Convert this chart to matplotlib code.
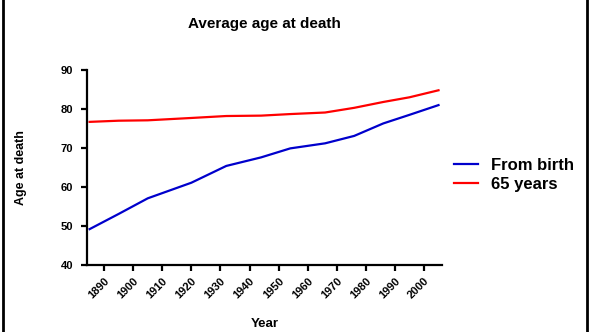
import matplotlib
matplotlib.use("Agg")
import matplotlib.pyplot as plt
from matplotlib.lines import Line2D

years = [1885, 1895, 1905, 1920, 1932, 1944, 1954, 1966, 1976, 1986, 1995, 2005]
from_birth = [49.2, 53.1, 57.1, 61.1, 65.4, 67.6, 69.9, 71.2, 73.1, 76.3, 78.5, 81.0]
age_65 = [76.7, 77.0, 77.1, 77.7, 78.2, 78.3, 78.7, 79.1, 80.3, 81.8, 83.0, 84.8]
xticks = list(range(1890, 2001, 10))
yticks = [40, 50, 60, 70, 80, 90]

plt.rcParams['font.family'] = ['Liberation Sans', 'DejaVu Sans']
plt.rcParams['font.weight'] = 'bold'

fig = plt.figure(figsize=(5.94, 3.32), dpi=100)
ax = fig.add_axes([87/594, 1-265/332, (442-87)/594, (265-70)/332])

ax.plot(years, from_birth, color='#0000CC', lw=1.6, label='From birth')
ax.plot(years, age_65, color='#FF0000', lw=1.6, label='65 years')

ax.set_xlim(1884.1, 2006.2)
ax.set_ylim(40, 90)
ax.set_xticks(xticks)
ax.set_yticks(yticks)
ax.spines['top'].set_visible(False)
ax.spines['right'].set_visible(False)
for s in ('left', 'bottom'):
    ax.spines[s].set_linewidth(1.6)
ax.tick_params(axis='both', direction='out', length=4, width=1.6, labelsize=8, pad=4)
ax.tick_params(axis='y', pad=6)
for lab in ax.get_xticklabels():
    lab.set_rotation(45)
    lab.set_ha('right')
    lab.set_va('top')
    lab.set_rotation_mode('anchor')
    lab.set_fontweight('bold')
for lab in ax.get_yticklabels():
    lab.set_fontweight('bold')

ax.set_title('Average age at death', fontsize=11, fontweight='bold', pad=30)
ax.set_xlabel('Year', fontsize=9.5, fontweight='bold', labelpad=12)
ax.set_ylabel('Age at death', fontsize=9, fontweight='bold', labelpad=24)

leg = ax.legend(loc='upper left', bbox_to_anchor=(1.015, 0.585), frameon=False,
                prop={'size': 12, 'weight': 'bold'}, handlelength=1.45,
                handletextpad=0.8, labelspacing=0.25, borderaxespad=0)

fig.add_artist(Line2D([2.5/594, 2.5/594], [0, 1], transform=fig.transFigure, color='black', lw=2))
fig.add_artist(Line2D([587/594, 587/594], [0, 1], transform=fig.transFigure, color='black', lw=2))

fig.savefig('out.png', dpi=100)
